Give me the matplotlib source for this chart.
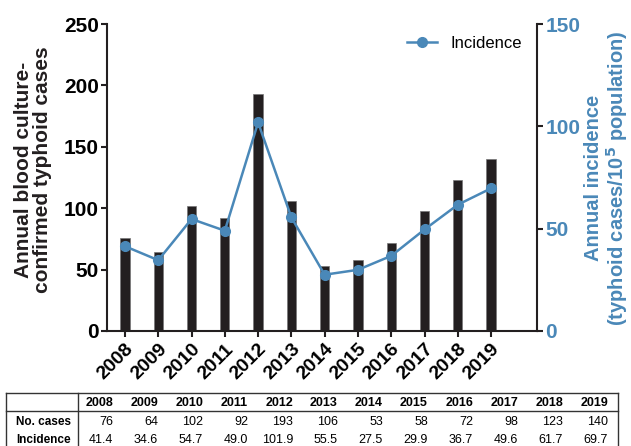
import numpy as np
import matplotlib
matplotlib.use("Agg")
from matplotlib import pyplot as plt
from matplotlib.lines import Line2D

years = ["2008", "2009", "2010", "2011", "2012", "2013",
         "2014", "2015", "2016", "2017", "2018", "2019"]
cases = [76, 64, 102, 92, 193, 106, 53, 58, 72, 98, 123, 140]
incidence = [41.4, 34.6, 54.7, 49.0, 101.9, 55.5, 27.5, 29.9, 36.7, 49.6, 61.7, 69.7]

BLUE = '#4a88b8'
DARK = '#231f20'
W, H = 631, 446

plt.rcParams['font.family'] = ['Liberation Sans', 'DejaVu Sans']

fig = plt.figure(figsize=(W / 100, H / 100), dpi=100)
ax = fig.add_axes([107 / W, 1 - 331 / H, (537 - 107) / W, (331 - 24) / H])
ax2 = ax.twinx()

x = np.arange(len(years))
ax.bar(x, cases, width=0.28, color=DARK, edgecolor='#777777', linewidth=0.5, zorder=2)
ax2.plot(x, incidence, color=BLUE, lw=1.8, marker='o', ms=7, zorder=3,
         label='Incidence')

ax.set_xlim(-0.54, 12.38)
ax.set_ylim(0, 250)
ax2.set_ylim(0, 150)
ax.set_yticks([0, 50, 100, 150, 200, 250])
ax2.set_yticks([0, 50, 100, 150])
ax.set_xticks(x)
ax.set_xticklabels(years, rotation=45, ha='right', rotation_mode='anchor',
                   fontsize=14, fontweight='bold')

for a in (ax, ax2):
    a.spines['top'].set_visible(False)
    for s in ('left', 'right', 'bottom'):
        a.spines[s].set_linewidth(1.5)
        a.spines[s].set_color(DARK)
    a.tick_params(width=1.5, length=4, direction='out', color=DARK)
ax.spines['right'].set_visible(False)
ax2.spines['left'].set_visible(False)
ax2.spines['bottom'].set_visible(False)

ax.tick_params(axis='y', labelsize=15, pad=2)
ax.tick_params(axis='x', pad=3)
for t in ax.get_yticklabels():
    t.set_fontweight('bold')
ax2.tick_params(axis='y', labelsize=15, labelcolor=BLUE, pad=2)
for t in ax2.get_yticklabels():
    t.set_fontweight('bold')

fig.text(33 / W, 1 - 170 / H, 'Annual blood culture-\nconfirmed typhoid cases',
         rotation=90, ha='center', va='center', fontsize=15, fontweight='bold',
         linespacing=1.05, color=DARK)
fig.text(607 / W, 1 - 178 / H,
         'Annual incidence\n(typhoid cases/10$^\\mathbf{5}$ population)',
         rotation=90, ha='center', va='center', fontsize=14.5, fontweight='bold',
         linespacing=1.05, color=BLUE)

ax2.legend(loc='upper right', bbox_to_anchor=(1.0, 1.01), frameon=False, fontsize=12,
           handlelength=1.8)

# summary table below the chart
def fx(px):
    return px / W

def fy(py):
    return 1 - py / H

lc = '#333333'
for (x0, y0, x1, y1) in [(6, 393, 618, 393), (6, 411, 618, 411), (6, 393, 6, 446),
                         (618, 393, 618, 446), (78, 393, 78, 446)]:
    fig.add_artist(Line2D([fx(x0), fx(x1)], [fy(y0), fy(y1)], color=lc, lw=1.0,
                          transform=fig.transFigure))

fig.text(fx(71), fy(422), 'No. cases', ha='right', va='center', fontsize=8.5,
         fontweight='bold')
fig.text(fx(71), fy(440), 'Incidence', ha='right', va='center', fontsize=8.5,
         fontweight='bold')
for i, yr in enumerate(years):
    xr = fx(113 + 45 * i)
    fig.text(xr, fy(403), yr, ha='right', va='center', fontsize=9, fontweight='bold')
    fig.text(xr, fy(422), str(cases[i]), ha='right', va='center', fontsize=9)
    fig.text(xr, fy(440), f'{incidence[i]:.1f}', ha='right', va='center', fontsize=9)

fig.savefig('out.png', dpi=100)
